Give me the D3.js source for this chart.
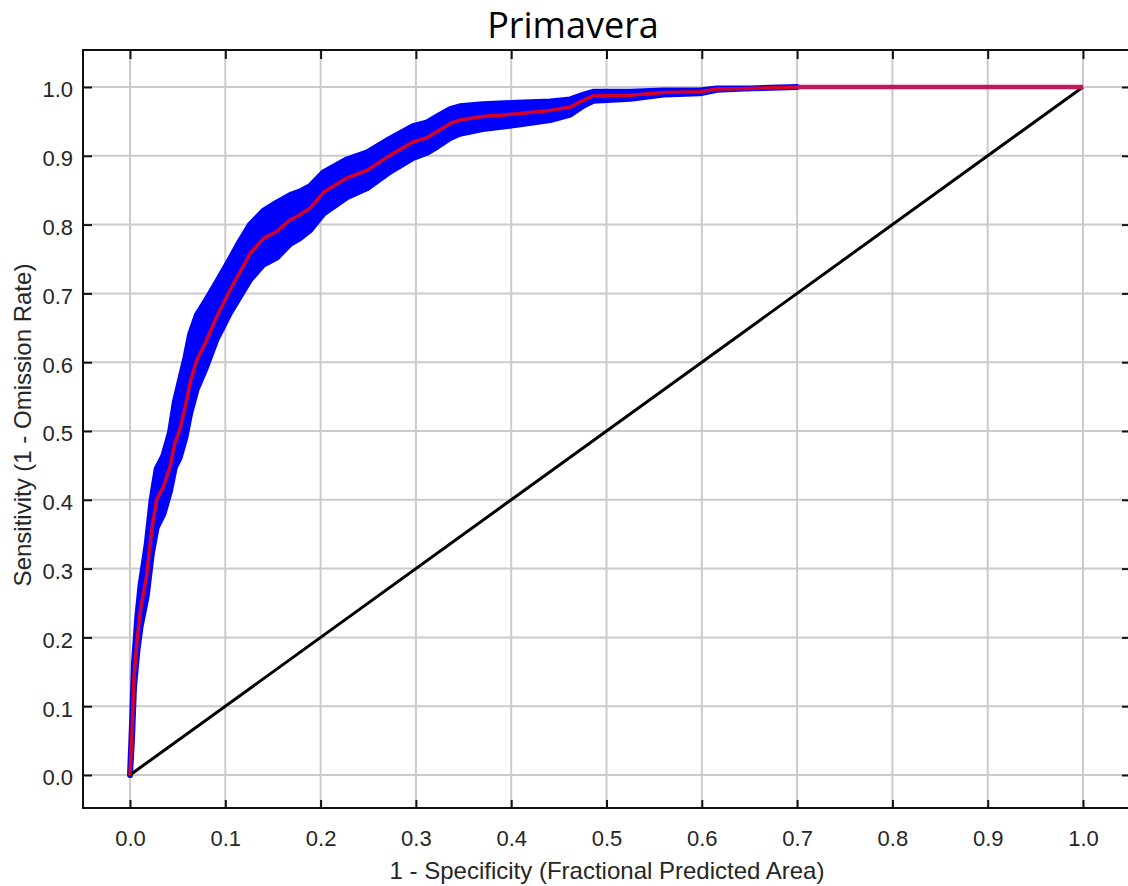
<!DOCTYPE html>
<html>
<head>
<meta charset="utf-8">
<script src="https://cdn.jsdelivr.net/npm/d3@7/dist/d3.min.js"></script>
<style>
  html, body { margin: 0; padding: 0; background: #ffffff; }
  svg { display: block; }
</style>
</head>
<body>
<svg id="chart" width="1128" height="886"></svg>
<script>
// ROC curve for the "Primavera" model: mean sensitivity with its ± one standard deviation band
const titleText = "Primavera";
const xLabel = "1 - Specificity (Fractional Predicted Area)";
const yLabel = "Sensitivity (1 - Omission Rate)";

const xTicks = [0, 0.1, 0.2, 0.3, 0.4, 0.5, 0.6, 0.7, 0.8, 0.9, 1.0];
const yTicks = [0, 0.1, 0.2, 0.3, 0.4, 0.5, 0.6, 0.7, 0.8, 0.9, 1.0];

// fractional predicted area (x) for the curve points
const fpr = [0, 0.002, 0.0042, 0.0077, 0.011, 0.0175, 0.0228, 0.028, 0.035, 0.042,
  0.047, 0.052, 0.058, 0.063, 0.070, 0.079, 0.091, 0.105, 0.115, 0.126,
  0.14, 0.154, 0.168, 0.178, 0.189, 0.203, 0.228, 0.249, 0.273, 0.297,
  0.311, 0.322, 0.336, 0.346, 0.37, 0.406, 0.441, 0.462, 0.476, 0.486,
  0.525, 0.56, 0.598, 0.616, 0.65, 0.70, 1.0];

// mean sensitivity
const meanSens = [0, 0.06, 0.143, 0.2, 0.24, 0.29, 0.356, 0.4, 0.419, 0.448,
  0.482, 0.501, 0.535, 0.57, 0.603, 0.628, 0.666, 0.705, 0.73, 0.758,
  0.78, 0.79, 0.807, 0.814, 0.824, 0.847, 0.868, 0.879, 0.901, 0.92,
  0.926, 0.935, 0.947, 0.952, 0.957, 0.961, 0.966, 0.971, 0.981, 0.987,
  0.988, 0.992, 0.993, 0.997, 0.998, 1.0, 1.0];

// mean + one standard deviation
const bandUpper = [0, 0.07, 0.163, 0.23, 0.275, 0.335, 0.401, 0.445, 0.464, 0.498,
  0.542, 0.571, 0.605, 0.64, 0.668, 0.688, 0.716, 0.75, 0.775, 0.80,
  0.82, 0.832, 0.843, 0.848, 0.856, 0.876, 0.895, 0.905, 0.925, 0.943,
  0.948, 0.957, 0.968, 0.972, 0.975, 0.977, 0.979, 0.982, 0.989, 0.993,
  0.993, 0.995, 0.995, 0.998, 0.998, 1.0, 1.0];

// mean - one standard deviation
const bandLower = [0, 0.05, 0.128, 0.18, 0.215, 0.26, 0.321, 0.36, 0.379, 0.413,
  0.447, 0.461, 0.49, 0.525, 0.561, 0.59, 0.634, 0.672, 0.695, 0.72,
  0.742, 0.752, 0.772, 0.78, 0.792, 0.816, 0.84, 0.853, 0.877, 0.897,
  0.904, 0.913, 0.926, 0.932, 0.939, 0.945, 0.952, 0.96, 0.973, 0.98,
  0.983, 0.989, 0.991, 0.996, 0.998, 1.0, 1.0];

// random prediction reference line
const randomLine = [[0, 0], [1, 1]];

const svg = d3.select("#chart");
const plot = { left: 83, top: 50, right: 1131, bottom: 808 };

const x = d3.scaleLinear().domain([0, 1]).range([130, 1083]);
const y = d3.scaleLinear().domain([0, 1]).range([775, 87]);

const fontAxis = "'Liberation Sans', Arial, sans-serif";
const textColor = "#262626";

// clip to the plot frame
svg.append("defs").append("clipPath").attr("id", "plotClip")
  .append("rect")
  .attr("x", plot.left).attr("y", plot.top)
  .attr("width", plot.right - plot.left).attr("height", plot.bottom - plot.top);

// grid
const grid = svg.append("g").attr("stroke", "#cbcbcb").attr("stroke-width", 2);
grid.selectAll("line.vx").data(xTicks).join("line")
  .attr("x1", d => x(d)).attr("x2", d => x(d))
  .attr("y1", plot.top).attr("y2", plot.bottom);
grid.selectAll("line.hy").data(yTicks).join("line")
  .attr("x1", plot.left).attr("x2", plot.right)
  .attr("y1", d => y(d)).attr("y2", d => y(d));

const data = fpr.map((f, i) => ({ f, m: meanSens[i], hi: bandUpper[i], lo: bandLower[i] }));

const marks = svg.append("g").attr("clip-path", "url(#plotClip)");

// standard deviation band (only where it has any spread)
const band = d3.area()
  .x(d => x(d.f))
  .y0(d => y(d.lo))
  .y1(d => y(d.hi));
marks.append("path")
  .datum(data.filter(d => d.f <= 0.7))
  .attr("d", band)
  .attr("fill", "#0000ff")
  .attr("stroke", "#0000ff")
  .attr("stroke-width", 6)
  .attr("stroke-linejoin", "round");

// random prediction
marks.append("path")
  .datum(randomLine)
  .attr("d", d3.line().x(d => x(d[0])).y(d => y(d[1])))
  .attr("fill", "none")
  .attr("stroke", "#000000")
  .attr("stroke-width", 3);

// mean curve
marks.append("path")
  .datum(data)
  .attr("d", d3.line().x(d => x(d.f)).y(d => y(d.m)))
  .attr("fill", "none")
  .attr("stroke", "#ff0000")
  .attr("stroke-opacity", 0.85)
  .attr("stroke-width", 3.5)
  .attr("stroke-linejoin", "round");

// flat tail of the mean curve, where the band has collapsed onto it
marks.append("path")
  .datum(data.filter(d => d.f >= 0.7))
  .attr("d", d3.line().x(d => x(d.f)).y(d => y(d.m)))
  .attr("fill", "none")
  .attr("stroke", "#c2185b")
  .attr("stroke-width", 4.5);

// axes with inward ticks
const bottomAxis = d3.axisBottom(x).tickValues(xTicks).tickFormat(d3.format(".1f"))
  .tickSizeInner(-8).tickSizeOuter(0).tickPadding(22);
const leftAxis = d3.axisLeft(y).tickValues(yTicks).tickFormat(d3.format(".1f"))
  .tickSizeInner(-9).tickSizeOuter(0).tickPadding(10);
const topAxis = d3.axisTop(x).tickValues(xTicks).tickFormat("")
  .tickSizeInner(-9).tickSizeOuter(0);
const rightAxis = d3.axisRight(y).tickValues(yTicks).tickFormat("")
  .tickSizeInner(-9).tickSizeOuter(0);

function styleAxis(g) {
  g.select(".domain").remove();
  g.selectAll(".tick line").attr("stroke", "#111").attr("stroke-width", 2);
  g.selectAll(".tick text")
    .attr("fill", textColor)
    .style("font-family", fontAxis)
    .style("font-size", "22px");
}

svg.append("g").attr("transform", `translate(0,${plot.bottom})`).call(bottomAxis).call(styleAxis);
svg.append("g").attr("transform", `translate(${plot.left},0)`).call(leftAxis).call(styleAxis)
  .selectAll(".tick text").attr("dy", "0.45em");
svg.append("g").attr("transform", `translate(0,${plot.top})`).call(topAxis).call(styleAxis);
svg.append("g").attr("transform", `translate(${plot.right},0)`).call(rightAxis).call(styleAxis);

// frame
svg.append("rect")
  .attr("x", plot.left).attr("y", plot.top)
  .attr("width", plot.right - plot.left).attr("height", plot.bottom - plot.top)
  .attr("fill", "none").attr("stroke", "#111").attr("stroke-width", 2);

// axis titles
svg.append("text")
  .attr("x", (plot.left + plot.right) / 2).attr("y", 879)
  .attr("text-anchor", "middle")
  .attr("fill", textColor)
  .style("font-family", fontAxis).style("font-size", "24px")
  .text(xLabel);

svg.append("text")
  .attr("transform", `translate(31,${(plot.top + plot.bottom) / 2 - 4}) rotate(-90)`)
  .attr("text-anchor", "middle")
  .attr("fill", textColor)
  .style("font-family", fontAxis).style("font-size", "24px")
  .text(yLabel);

// chart title
svg.append("text")
  .attr("x", 573).attr("y", 38)
  .attr("text-anchor", "middle")
  .attr("fill", "#000")
  .style("font-family", "'Open Sans', 'Noto Sans', sans-serif")
  .style("font-size", "36px")
  .text(titleText);
</script>
</body>
</html>
